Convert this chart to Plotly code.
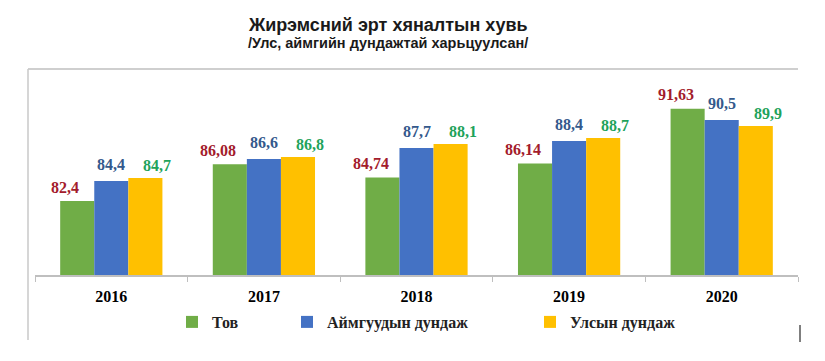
import plotly.graph_objects as go

years = ["2016", "2017", "2018", "2019", "2020"]
tov = [82.4, 86.08, 84.74, 86.14, 91.63]
aimag = [84.4, 86.6, 87.7, 88.4, 90.5]
uls = [84.7, 86.8, 88.1, 88.7, 89.9]

tov_labels = ["82,4", "86,08", "84,74", "86,14", "91,63"]
aimag_labels = ["84,4", "86,6", "87,7", "88,4", "90,5"]
uls_labels = ["84,7", "86,8", "88,1", "88,7", "89,9"]

names = ["Тов", "Аймгуудын дундаж", "Улсын дундаж"]
bar_colors = ["#70AD47", "#4472C4", "#FFC000"]
label_colors = ["#A31C2C", "#34598C", "#1FA35B"]

title = "Жирэмсний эрт хяналтын хувь"
subtitle = "/Улс, аймгийн дундажтай харьцуулсан/"

series = [tov, aimag, uls]
series_labels = [tov_labels, aimag_labels, uls_labels]
legends = ["legend", "legend2", "legend3"]

# plot area in page pixels (page has an 8px body offset)
PX_L, PX_R, PX_T, PX_B = 35, 798, 69, 275
W = PX_R - PX_L
H = PX_B - PX_T


def px_x(p):
    return (p - PX_L) / W


def px_y(p):
    return (PX_B - p) / H


fig = go.Figure()
for i in range(3):
    fig.add_trace(go.Bar(
        x=years, y=series[i], name="<b>" + names[i] + "</b>",
        marker=dict(color=bar_colors[i], line=dict(width=0)),
        legend=legends[i],
    ))

bar_w = 34
xshifts = [-bar_w - 12, 0, bar_w + 12]
yshifts = [3.5, 6.5, 2]
annotations = []
for i in range(3):
    for idx, (v, lab) in enumerate(zip(series[i], series_labels[i])):
        annotations.append(dict(
            x=idx, y=v, xref="x", yref="y", text="<b>" + lab + "</b>", showarrow=False,
            xshift=xshifts[i], yshift=yshifts[i], yanchor="bottom", xanchor="center",
            font=dict(family="Liberation Serif", size=16, color=label_colors[i]),
        ))

annotations.append(dict(
    x=px_x(388), y=px_y(25), xref="paper", yref="paper", text="<b>" + title + "</b>",
    showarrow=False, yanchor="middle", xanchor="center",
    font=dict(family="Liberation Sans", size=18, color="#1a1a1a"),
))
annotations.append(dict(
    x=px_x(388), y=px_y(43.5), xref="paper", yref="paper", text="<b>" + subtitle + "</b>",
    showarrow=False, yanchor="middle", xanchor="center",
    font=dict(family="Liberation Sans", size=14.5, color="#1a1a1a"),
))

legend_font = dict(family="Liberation Serif", size=16, color="#222222")
leg_common = dict(orientation="h", yanchor="middle", xanchor="left",
                  bgcolor="rgba(0,0,0,0)", font=legend_font, itemwidth=30)

fig.update_layout(
    width=817, height=353,
    margin=dict(l=27, r=27, t=61, b=86, autoexpand=False),
    paper_bgcolor="white", plot_bgcolor="white",
    barmode="group", bargap=0.33, bargroupgap=0,
    annotations=annotations,
    showlegend=True,
    legend=dict(x=px_x(172), y=px_y(322), **leg_common),
    legend2=dict(x=px_x(287), y=px_y(322), **leg_common),
    legend3=dict(x=px_x(530), y=px_y(322), **leg_common),
    xaxis=dict(
        type="category", showline=True, linecolor="#BFBFBF", linewidth=1.5,
        ticks="outside", tickson="boundaries", ticklen=5, tickcolor="#BFBFBF",
        tickfont=dict(family="Liberation Serif", size=16, color="black"),
        tickprefix="<b>", ticksuffix="</b>",
        showgrid=False, tickangle=0, ticklabelstandoff=6,
    ),
    yaxis=dict(range=[75, 95.6], visible=False, showgrid=False),
    shapes=[
        dict(type="line", xref="paper", yref="paper", x0=px_x(28), x1=1.0, y0=1.0, y1=1.0,
             line=dict(color="#BFBFBF", width=1.5)),
        dict(type="line", xref="paper", yref="paper", x0=px_x(28), x1=px_x(28),
             y0=1.0, y1=px_y(340), line=dict(color="#C8C8C8", width=1.5)),
        dict(type="line", xref="paper", yref="paper", x0=px_x(800), x1=px_x(800),
             y0=px_y(325), y1=px_y(342), line=dict(color="#555555", width=1.5)),
    ],
)

fig.write_html("out.html")
